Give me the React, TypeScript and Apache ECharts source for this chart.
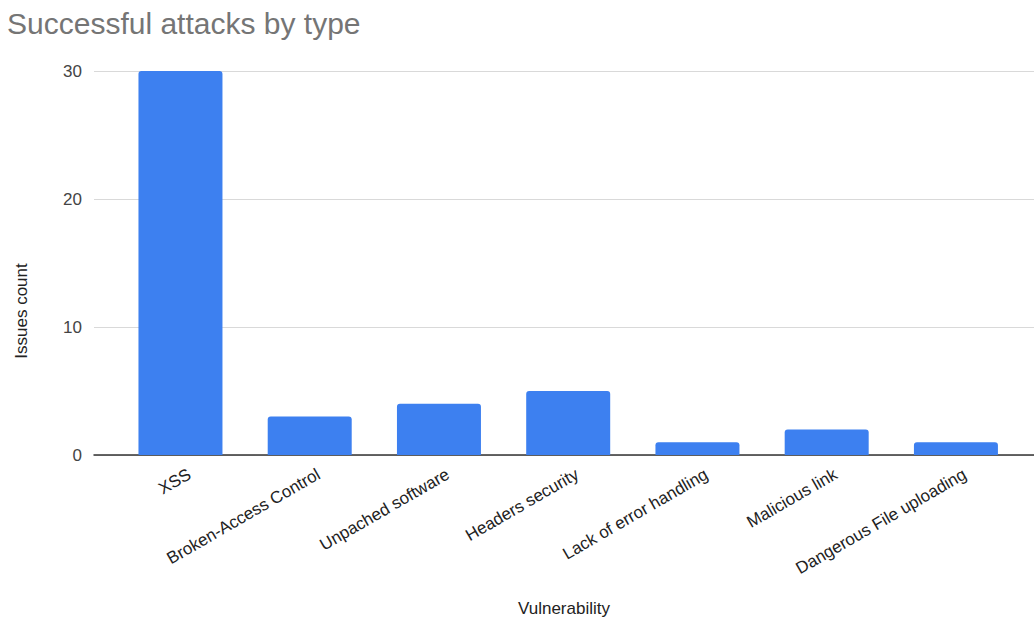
import React, { useEffect, useRef } from "react";
import * as echarts from "echarts";

const categories = [
  "XSS",
  "Broken-Access Control",
  "Unpached software",
  "Headers security",
  "Lack of error handling",
  "Malicious link",
  "Dangerous File uploading",
];
const issues = [30, 3, 4, 5, 1, 2, 1];
const yTicks = [0, 10, 20, 30];

const FONT = "'Liberation Sans', Arial, sans-serif";
const LABEL_SHIFT = 0.07;

export default function App() {
  const ref = useRef<HTMLDivElement>(null);
  useEffect(() => {
    if (!ref.current) return;
    const chart = echarts.init(ref.current, null, { renderer: "svg" });
    chart.setOption({
      animation: false,
      backgroundColor: "#ffffff",
      title: {
        text: "Successful attacks by type",
        left: 2,
        top: 3,
        textStyle: { fontFamily: FONT, fontSize: 30, fontWeight: "normal", color: "#757575" },
      },
      grid: { left: 94, right: 0, top: 71, bottom: 169, containLabel: false, outerBoundsMode: "none" },
      xAxis: {
        type: "value",
        min: -0.669,
        max: 6.604,
        name: "Vulnerability",
        nameLocation: "middle",
        nameGap: 145,
        nameTextStyle: { fontFamily: FONT, fontSize: 17, color: "#222" },
        axisLine: { show: true, onZero: false, lineStyle: { color: "#333", width: 1.5 } },
        axisTick: { show: false },
        splitLine: { show: false },
        axisLabel: {
          customValues: categories.map((_, i) => i + LABEL_SHIFT),
          formatter: (v: number) => categories[Math.round(v)] ?? "",
          rotate: 30,
          margin: 18,
          fontFamily: FONT,
          fontSize: 17,
          color: "#222",
        },
      },
      yAxis: {
        type: "value",
        min: 0,
        max: 30,
        interval: 10,
        axisLine: { show: false },
        axisTick: { show: false },
        splitLine: { lineStyle: { color: "#d9d9d9", width: 1 } },
        axisLabel: {
          customValues: yTicks,
          margin: 12,
          fontFamily: FONT,
          fontSize: 17,
          color: "#444",
        },
      },
      graphic: [
        {
          type: "text",
          x: 21,
          y: 311,
          rotation: Math.PI / 2,
          style: {
            text: "Issues count",
            fontFamily: FONT,
            fontSize: 17,
            fill: "#222",
            align: "center",
            verticalAlign: "middle",
          },
        },
      ],
      series: [
        {
          type: "bar",
          barWidth: 84,
          data: issues.map((v, i) => [i, v]),
          itemStyle: { color: "#3d80f0", borderRadius: [3, 3, 0, 0] },
        },
      ],
    });
    return () => chart.dispose();
  }, []);
  return <div ref={ref} style={{ width: 1034, height: 624, position: "absolute", left: 0, top: 0 }} />;
}
